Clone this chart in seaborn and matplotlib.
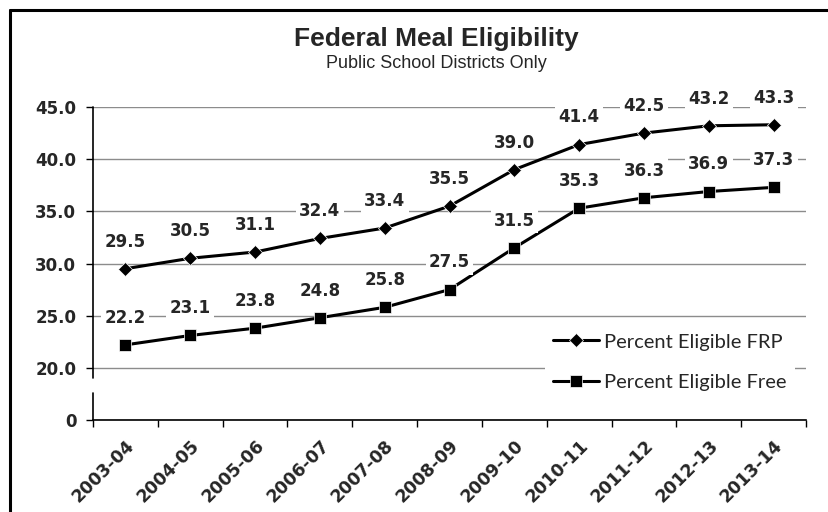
import pandas as pd
import matplotlib.pyplot as plt
import seaborn as sns
from matplotlib.lines import Line2D

# chart data
years = ['2003-04', '2004-05', '2005-06', '2006-07', '2007-08', '2008-09',
         '2009-10', '2010-11', '2011-12', '2012-13', '2013-14']
pct_frp = [29.5, 30.5, 31.1, 32.4, 33.4, 35.5, 39.0, 41.4, 42.5, 43.2, 43.3]
pct_free = [22.2, 23.1, 23.8, 24.8, 25.8, 27.5, 31.5, 35.3, 36.3, 36.9, 37.3]
# the axis is broken: the "0" tick sits one step below 20.0
y_ticks = [15, 20, 25, 30, 35, 40, 45]
y_tick_labels = ['0', '20.0', '25.0', '30.0', '35.0', '40.0', '45.0']

sns.set_style('white')
bold_font = 'DejaVu Sans'

df = pd.DataFrame({'pos': range(len(years)), 'FRP': pct_frp, 'Free': pct_free})

fig = plt.figure(figsize=(8.29, 5.12), dpi=100)
ax = fig.add_axes([0.1122, 0.1797, 0.8601, 0.6113])

sns.lineplot(data=df, x='pos', y='FRP', ax=ax, color='black', lw=2.2,
             marker='D', markersize=7, markeredgewidth=0.5,
             label='Percent Eligible FRP', zorder=3)
sns.lineplot(data=df, x='pos', y='Free', ax=ax, color='black', lw=2.2,
             marker='s', markersize=8.5, markeredgewidth=0.5,
             label='Percent Eligible Free', zorder=3)

# data labels with white boxes over the gridlines
for col in ['FRP', 'Free']:
    for i, v in zip(df['pos'], df[col]):
        ax.annotate(f'{v:.1f}', (i, v), xytext=(0, 19.5), textcoords='offset points',
                    ha='center', va='center', fontsize=12, fontweight='bold',
                    family=bold_font, zorder=4,
                    bbox=dict(boxstyle='square,pad=0.2', fc='white', ec='none'))

ax.set_xlim(-0.5, len(years) - 0.5)
ax.set_ylim(15, 45)
ax.set_xlabel('')
ax.set_ylabel('')

# y axis
ax.set_yticks(y_ticks)
ax.set_yticklabels(y_tick_labels, fontsize=12, fontweight='bold', family=bold_font)
ax.tick_params(axis='y', direction='out', length=5, width=1, color='black', pad=7, left=True)
ax.yaxis.grid(True, color='#8c8c8c', lw=1)
ax.set_axisbelow(True)

# x axis: labels at centres, ticks at category boundaries
ax.set_xticks(range(len(years)))
ax.set_xticklabels(years, rotation=45, ha='right', rotation_mode='anchor',
                   fontsize=12.5, fontweight='bold', family=bold_font)
ax.tick_params(axis='x', which='major', length=0, pad=12)
ax.set_xticks([i - 0.5 for i in range(len(years) + 1)], minor=True)
ax.tick_params(axis='x', which='minor', direction='out', length=5, width=1,
               color='black', bottom=True)

for s in ['top', 'right', 'left']:
    ax.spines[s].set_visible(False)
ax.spines['bottom'].set_color('black')
ax.spines['bottom'].set_linewidth(1.2)

# broken left axis
ax.axvline(-0.5, ymin=0, ymax=0.087, color='black', lw=1.2, clip_on=False)
ax.axvline(-0.5, ymin=0.133, ymax=1, color='black', lw=1.2, clip_on=False)

leg = ax.legend(loc='center left', bbox_to_anchor=(0.634, 0.185),
                frameon=True, facecolor='white', edgecolor='none', framealpha=1,
                fancybox=False, handlelength=2.3, handletextpad=0.25,
                labelspacing=1.15, borderpad=0.4, borderaxespad=0,
                prop={'family': 'Lato', 'size': 14.5})
leg.set_zorder(5)

fig.text(0.526, 0.910, 'Federal Meal Eligibility', ha='center', va='baseline',
         fontsize=19, fontweight='bold', family='Liberation Sans')
fig.text(0.526, 0.867, 'Public School Districts Only', ha='center', va='baseline',
         fontsize=13, family='Liberation Sans')

# outer frame (only left and top edges are visible)
fig.add_artist(Line2D([0.0121, 0.0121], [0, 0.981], transform=fig.transFigure,
                      color='black', lw=2.2))
fig.add_artist(Line2D([0.0121, 1], [0.981, 0.981], transform=fig.transFigure,
                      color='black', lw=2.2))

fig.savefig('out.png', dpi=100)
